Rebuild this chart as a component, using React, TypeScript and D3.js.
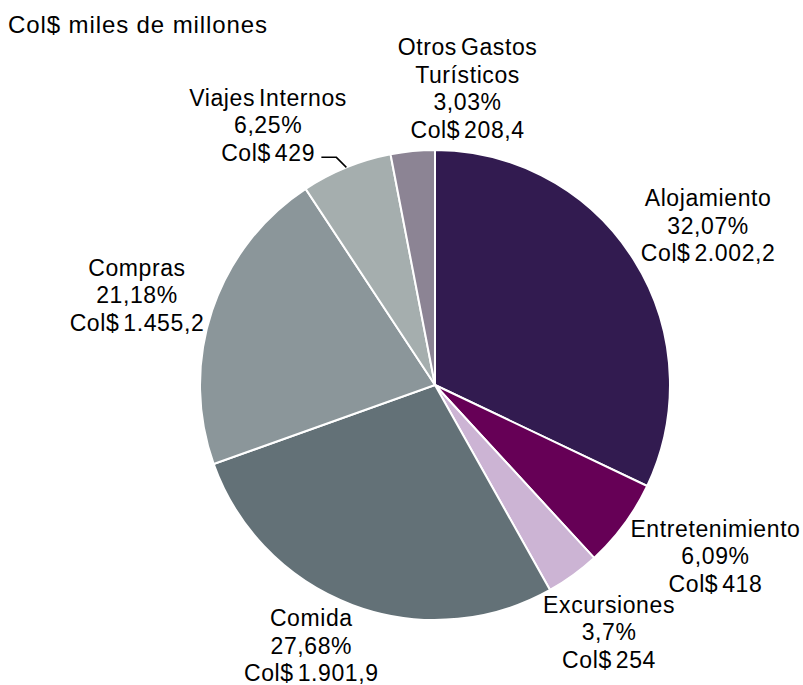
import React from "react";
import * as d3 from "d3";

const categories = ["Alojamiento", "Entretenimiento", "Excursiones", "Comida", "Compras", "Viajes Internos", "Otros Gastos Turísticos"];
const labelLines = [["Alojamiento"], ["Entretenimiento"], ["Excursiones"], ["Comida"], ["Compras"], ["Viajes Internos"], ["Otros Gastos", "Turísticos"]];
const percents = [32.07, 6.09, 3.7, 27.68, 21.18, 6.25, 3.03];
const percentLabels = ["32,07%", "6,09%", "3,7%", "27,68%", "21,18%", "6,25%", "3,03%"];
const valueLabels = ["Col$ 2.002,2", "Col$ 418", "Col$ 254", "Col$ 1.901,9", "Col$ 1.455,2", "Col$ 429", "Col$ 208,4"];
const colors = ["#321B50", "#660056", "#CCB4D4", "#637177", "#8B969A", "#A5AEAE", "#8C8494"];
const labelOffsets: [number, number][] = [[11, 6], [31, -13], [-8, -4], [-15, -30], [-4, 8], [-50, 27], [62, 12]];

const W = 803, H = 685;
const cx = 435, cy = 385, R = 235, LR = 310;
const FS = 23, LH = 27.5;

export default function App() {
  const pie = d3.pie<number>().value((d) => d).sort(null);
  const arcs = pie(percents);
  const arc = d3.arc<d3.PieArcDatum<number>>().innerRadius(0).outerRadius(R);
  const font = "'Liberation Sans', Arial, sans-serif";

  return (
    <svg width={W} height={H} style={{ position: "absolute", left: 0, top: 0, background: "#fff" }}>
      <text x={8} y={33} fontFamily={font} fontSize={24} letterSpacing={0.9} fill="#000">Col$ miles de millones</text>
      <g transform={`translate(${cx},${cy})`}>
        {arcs.map((a, i) => (
          <path key={categories[i]} d={arc(a) || ""} fill={colors[i]} stroke="#fff" strokeWidth={2} />
        ))}
        {arcs.map((a, i) => {
          const mid = (a.startAngle + a.endAngle) / 2;
          const x = Math.sin(mid) * LR + labelOffsets[i][0];
          const y = -Math.cos(mid) * LR + labelOffsets[i][1];
          const lines = [...labelLines[i], percentLabels[i], valueLabels[i]];
          const y0 = y - ((lines.length - 1) * LH) / 2 + FS * 0.36;
          return (
            <text key={"l" + i} x={x} y={y0} textAnchor="middle" fontFamily={font} fontSize={FS} letterSpacing={0.6} wordSpacing={-3} fill="#000">
              {lines.map((t, j) => (
                <tspan key={j} x={x} y={y0 + j * LH}>{t}</tspan>
              ))}
            </text>
          );
        })}
        {arcs.map((a, i) => {
          if (categories[i] !== "Viajes Internos") return null;
          const mid = (a.startAngle + a.endAngle) / 2;
          const ex = Math.sin(mid) * R, ey = -Math.cos(mid) * R;
          const path = d3.path();
          path.moveTo(ex - 25, ey - 10);
          path.lineTo(ex - 10, ey - 10);
          path.lineTo(ex, ey);
          return <path key="leader" d={path.toString()} fill="none" stroke="#000" strokeWidth={1.5} />;
        })}
      </g>
    </svg>
  );
}
